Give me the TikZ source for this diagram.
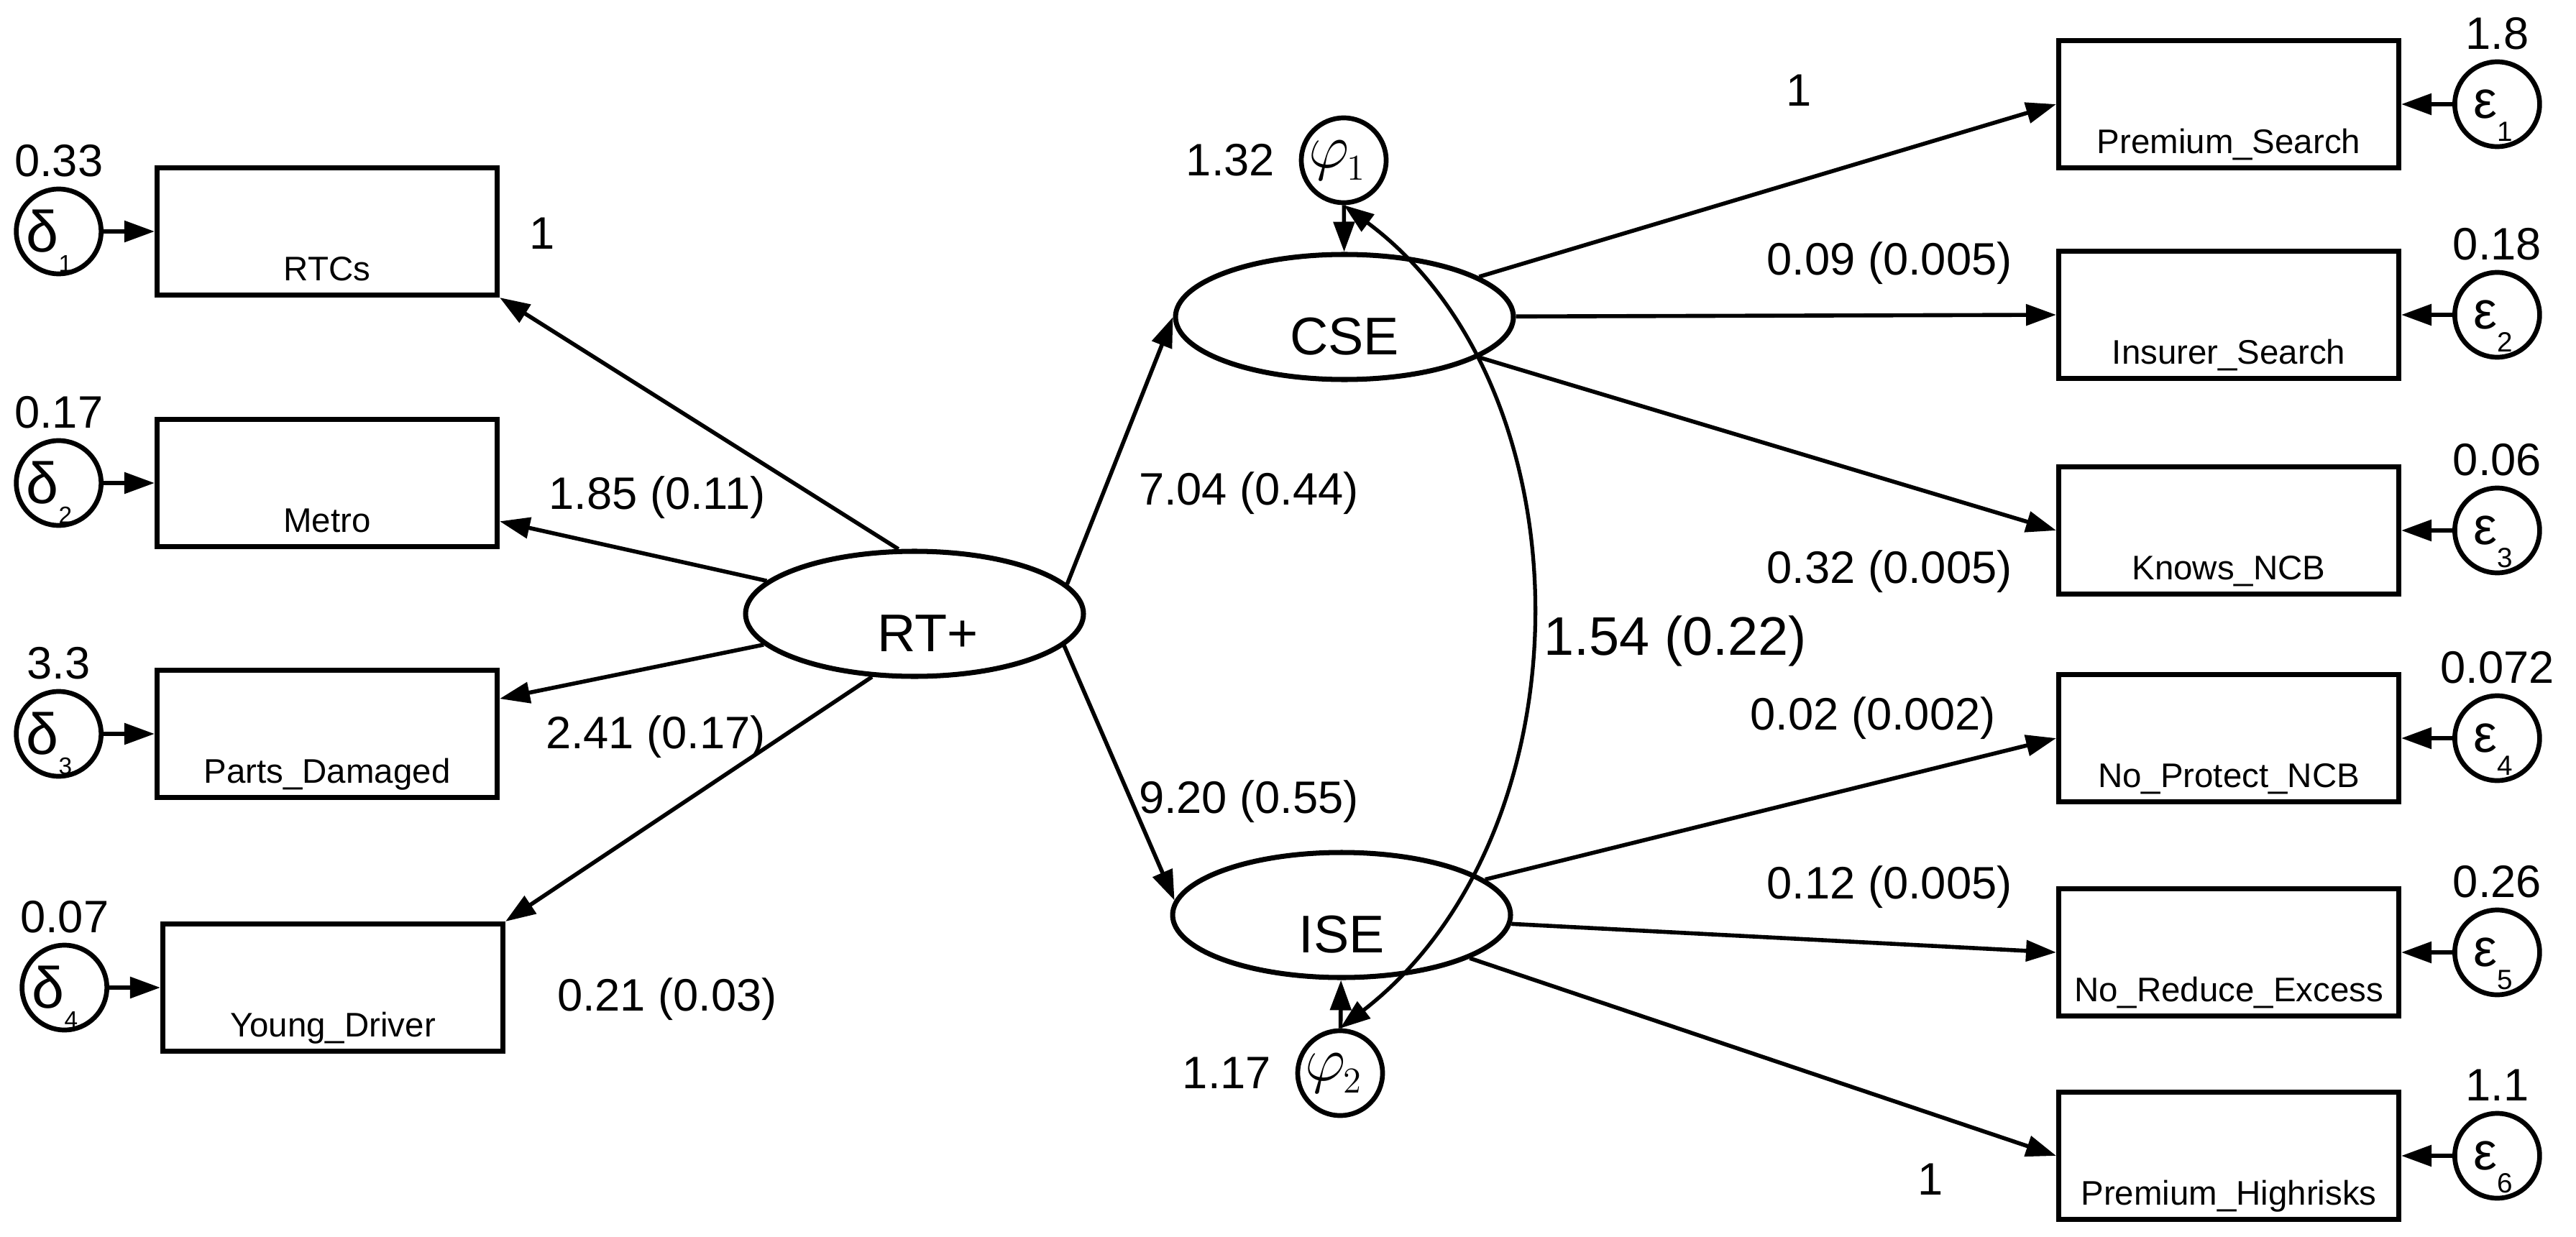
\documentclass[tikz,border=0pt]{standalone}
\usepackage[no-math]{fontspec}
\setmainfont{Liberation Sans}
\usepackage{tikz}
\usetikzlibrary{shapes.geometric, arrows.meta, positioning}

% error terms: symbol with a low subscript
\newcommand{\dlab}[1]{{\fontsize{23}{23}\selectfont\makebox[0pt][r]{δ}\smash{\raisebox{-0.28cm}{\makebox[0pt][l]{\fontsize{9.5}{9.5}\selectfont #1}}}}}
\newcommand{\elab}[1]{{\fontsize{21}{21}\selectfont\makebox[0pt][r]{ε}\smash{\raisebox{-0.32cm}{\makebox[0pt][l]{\fontsize{11}{11}\selectfont #1}}}}}
\newcommand{\plab}[1]{{\fontsize{28}{28}\selectfont\makebox[0pt][r]{$\varphi$\hspace{-0.08cm}}\smash{\raisebox{-0.175cm}{\makebox[0pt][l]{\hspace{0.04cm}\fontsize{15}{15}\selectfont$#1$}}}}}

\begin{document}
\begin{tikzpicture}[
      font=\fontsize{18}{20}\selectfont,
      obs/.style={rectangle, draw, line width=2pt, minimum width=4.73cm, inner xsep=0pt, inner ysep=0pt, text height=1.57cm, text depth=0.2cm, font=\fontsize{13.5}{14}\selectfont},
      latent/.style={ellipse, draw, line width=2pt, minimum width=4.70cm, minimum height=1.74cm, inner sep=0pt, text height=1.05cm, text depth=0pt, font=\fontsize{21}{22}\selectfont},
      err/.style={circle, draw, line width=1.9pt, minimum size=1.18cm, inner sep=0pt},
      num/.style={inner sep=0pt},
      link/.style={-{Triangle[length=0.42cm, width=0.29cm]}, line width=1.6pt},
      cov/.style={{Triangle[length=0.42cm, width=0.29cm]}-{Triangle[length=0.42cm, width=0.29cm]}, line width=1.5pt}
    ]

    \useasboundingbox (0,0) rectangle (35.83,-17.21);

    % Latent variables
    \node[latent] (rt) at (12.72,-8.54) {\hspace*{0.38cm}RT+};
    \node[latent] (cse) at (18.70,-4.41) {CSE};
    \node[latent] (ise) at (18.66,-12.73) {ISE};

    \node[err] (phi1) at (18.69,-2.23) {\plab{1}};
    \node[err] (phi2) at (18.64,-14.93) {\plab{2}};
    \node[num, left=0.33cm of phi1] (vphi1) {1.32};
    \node[num, left=0.33cm of phi2] (vphi2) {1.17};

    % Indicators of RT+
    \node[obs] (rtcs) at (4.55,-3.22) {RTCs};
    \node[obs] (metro) at (4.55,-6.72) {Metro};
    \node[obs] (parts) at (4.55,-10.21) {Parts\_Damaged};
    \node[obs] (young) at (4.63,-13.74) {Young\_Driver};

    \node[err, left=0.71cm of rtcs] (d1) {\dlab{1}};
    \node[err, left=0.71cm of metro] (d2) {\dlab{2}};
    \node[err, left=0.71cm of parts] (d3) {\dlab{3}};
    \node[err, left=0.71cm of young] (d4) {\dlab{4}};

    \node[num, above=0.13cm of d1] (vd1) {0.33};
    \node[num, above=0.13cm of d2] (vd2) {0.17};
    \node[num, above=0.13cm of d3] (vd3) {3.3};
    \node[num, above=0.13cm of d4] (vd4) {0.07};

    % Indicators of CSE and ISE
    \node[obs] (prem) at (31.00,-1.45) {Premium\_Search};
    \node[obs] (ins) at (31.00,-4.38) {Insurer\_Search};
    \node[obs] (ncb) at (31.00,-7.38) {Knows\_NCB};
    \node[obs] (prot) at (31.00,-10.27) {No\_Protect\_NCB};
    \node[obs] (excess) at (31.00,-13.25) {No\_Reduce\_Excess};
    \node[obs] (high) at (31.00,-16.08) {Premium\_Highrisks};

    \node[err, right=0.71cm of prem] (e1) {\elab{1}};
    \node[err, right=0.71cm of ins] (e2) {\elab{2}};
    \node[err, right=0.71cm of ncb] (e3) {\elab{3}};
    \node[err, right=0.71cm of prot] (e4) {\elab{4}};
    \node[err, right=0.71cm of excess] (e5) {\elab{5}};
    \node[err, right=0.71cm of high] (e6) {\elab{6}};

    \node[num, above=0.13cm of e1] (ve1) {1.8};
    \node[num, above=0.13cm of e2] (ve2) {0.18};
    \node[num, above=0.13cm of e3] (ve3) {0.06};
    \node[num, above=0.13cm of e4] (ve4) {0.072};
    \node[num, above=0.13cm of e5] (ve5) {0.26};
    \node[num, above=0.13cm of e6] (ve6) {1.1};

    % Loadings and paths
    \draw[link] (rt.104) -- (rtcs.south east);
    \draw[link] (rt) -- (metro);
    \draw[link] (rt) -- (parts);
    \draw[link] (rt.236) -- (young.north east);
    \draw[link] (rt.11) -- (cse.west);
    \draw[link] (rt.-12) -- (ise.175);

    \draw[link] (cse) -- (prem.west);
    \draw[link] (cse) -- (ins.west);
    \draw[link] (cse) -- (ncb.west);
    \draw[link] (ise) -- (prot.west);
    \draw[link] (ise) -- (excess.west);
    \draw[link] (ise) -- (high.west);

    % Disturbances and errors
    \draw[link] (phi1) -- (cse);
    \draw[link] (phi2) -- (ise);
    \draw[cov] (phi1.south) .. controls +(3.45,-2.56) and +(3.51,2.72) .. (phi2.north);

    \foreach \i/\ind in {1/rtcs, 2/metro, 3/parts, 4/young}
      \draw[link] (d\i) -- (\ind);
    \foreach \i/\ind in {1/prem, 2/ins, 3/ncb, 4/prot, 5/excess, 6/high}
      \draw[link] (e\i) -- (\ind);

    % Estimates
    \node[num] (l1) at (7.54,-3.25) {1};
    \node[num] (l2) at (9.14,-6.92) {1.85 (0.11)};
    \node[num] (l3) at (9.12,-10.25) {2.41 (0.17)};
    \node[num] (l4) at (9.28,-13.90) {0.21 (0.03)};
    \node[num] (l5) at (17.37,-6.86) {7.04 (0.44)};
    \node[num] (l6) at (17.37,-11.15) {9.20 (0.55)};
    \node[num, font=\fontsize{21.5}{22}\selectfont] (lcov) at (23.30,-8.92) {1.54 (0.22)};
    \node[num] (r1) at (25.02,-1.26) {1};
    \node[num] (r2) at (26.28,-3.66) {0.09 (0.005)};
    \node[num] (r3) at (26.28,-7.95) {0.32 (0.005)};
    \node[num] (r4) at (26.05,-9.99) {0.02 (0.002)};
    \node[num] (r5) at (26.28,-12.34) {0.12 (0.005)};
    \node[num] (r6) at (26.85,-16.41) {1};

    \end{tikzpicture}
\end{document}
